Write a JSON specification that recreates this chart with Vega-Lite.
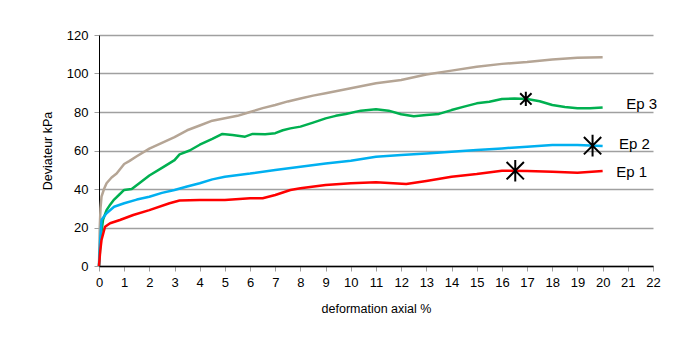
{
  "$schema": "https://vega.github.io/schema/vega-lite/v6.json",
  "width": 554,
  "height": 231,
  "autosize": {"type": "none"},
  "padding": {"left": 99, "top": 35, "right": 35, "bottom": 74},
  "background": "white",
  "config": {
    "view": {"stroke": null},
    "font": "Liberation Sans",
    "axis": {
      "labelFont": "Liberation Sans",
      "titleFont": "Liberation Sans",
      "labelColor": "#000000",
      "titleColor": "#000000",
      "titleFontWeight": "normal",
      "labelFontSize": 13,
      "titleFontSize": 12.5,
      "tickColor": "#a0a0a0",
      "tickSize": 5,
      "domainColor": "#000000",
      "labelOverlap": false
    }
  },
  "datasets": {
    "curves": [
      {"series": "gris", "strain": 0, "dev": 0},
      {"series": "gris", "strain": 0.03, "dev": 20},
      {"series": "gris", "strain": 0.06, "dev": 30},
      {"series": "gris", "strain": 0.1, "dev": 36},
      {"series": "gris", "strain": 0.2, "dev": 40},
      {"series": "gris", "strain": 0.3, "dev": 43},
      {"series": "gris", "strain": 0.5, "dev": 46},
      {"series": "gris", "strain": 0.7, "dev": 48},
      {"series": "gris", "strain": 1.0, "dev": 53},
      {"series": "gris", "strain": 1.2, "dev": 54.5},
      {"series": "gris", "strain": 1.5, "dev": 57},
      {"series": "gris", "strain": 2, "dev": 61},
      {"series": "gris", "strain": 2.5, "dev": 64},
      {"series": "gris", "strain": 3, "dev": 67},
      {"series": "gris", "strain": 3.5, "dev": 70.5},
      {"series": "gris", "strain": 4, "dev": 73},
      {"series": "gris", "strain": 4.5, "dev": 75.5},
      {"series": "gris", "strain": 5, "dev": 76.7},
      {"series": "gris", "strain": 5.5, "dev": 78},
      {"series": "gris", "strain": 6, "dev": 80},
      {"series": "gris", "strain": 6.5, "dev": 82},
      {"series": "gris", "strain": 7, "dev": 83.6},
      {"series": "gris", "strain": 7.5, "dev": 85.5},
      {"series": "gris", "strain": 8, "dev": 87},
      {"series": "gris", "strain": 8.5, "dev": 88.5},
      {"series": "gris", "strain": 9, "dev": 89.7},
      {"series": "gris", "strain": 9.5, "dev": 91},
      {"series": "gris", "strain": 10, "dev": 92.3},
      {"series": "gris", "strain": 11, "dev": 94.9},
      {"series": "gris", "strain": 12, "dev": 96.6},
      {"series": "gris", "strain": 13, "dev": 99.5},
      {"series": "gris", "strain": 14, "dev": 101.5},
      {"series": "gris", "strain": 15, "dev": 103.5},
      {"series": "gris", "strain": 16, "dev": 105},
      {"series": "gris", "strain": 17, "dev": 106},
      {"series": "gris", "strain": 18, "dev": 107.3},
      {"series": "gris", "strain": 19, "dev": 108.2},
      {"series": "gris", "strain": 20, "dev": 108.5},

      {"series": "Ep 3", "strain": 0, "dev": 0},
      {"series": "Ep 3", "strain": 0.05, "dev": 10},
      {"series": "Ep 3", "strain": 0.1, "dev": 18},
      {"series": "Ep 3", "strain": 0.16, "dev": 24},
      {"series": "Ep 3", "strain": 0.3, "dev": 29},
      {"series": "Ep 3", "strain": 0.45, "dev": 32},
      {"series": "Ep 3", "strain": 0.6, "dev": 34.5},
      {"series": "Ep 3", "strain": 0.8, "dev": 37},
      {"series": "Ep 3", "strain": 1.0, "dev": 39.5},
      {"series": "Ep 3", "strain": 1.3, "dev": 40},
      {"series": "Ep 3", "strain": 1.6, "dev": 43},
      {"series": "Ep 3", "strain": 2, "dev": 47},
      {"series": "Ep 3", "strain": 2.5, "dev": 51},
      {"series": "Ep 3", "strain": 3, "dev": 55},
      {"series": "Ep 3", "strain": 3.2, "dev": 58},
      {"series": "Ep 3", "strain": 3.6, "dev": 60},
      {"series": "Ep 3", "strain": 4, "dev": 63},
      {"series": "Ep 3", "strain": 4.5, "dev": 66},
      {"series": "Ep 3", "strain": 4.9, "dev": 68.6},
      {"series": "Ep 3", "strain": 5.3, "dev": 68},
      {"series": "Ep 3", "strain": 5.8, "dev": 67.2},
      {"series": "Ep 3", "strain": 6.1, "dev": 68.6},
      {"series": "Ep 3", "strain": 6.6, "dev": 68.5},
      {"series": "Ep 3", "strain": 7, "dev": 69},
      {"series": "Ep 3", "strain": 7.3, "dev": 70.5},
      {"series": "Ep 3", "strain": 7.6, "dev": 71.5},
      {"series": "Ep 3", "strain": 8, "dev": 72.4},
      {"series": "Ep 3", "strain": 8.5, "dev": 74.5},
      {"series": "Ep 3", "strain": 9, "dev": 76.7},
      {"series": "Ep 3", "strain": 9.4, "dev": 78},
      {"series": "Ep 3", "strain": 9.8, "dev": 79},
      {"series": "Ep 3", "strain": 10.4, "dev": 80.7},
      {"series": "Ep 3", "strain": 11, "dev": 81.4},
      {"series": "Ep 3", "strain": 11.5, "dev": 80.7},
      {"series": "Ep 3", "strain": 12, "dev": 78.8},
      {"series": "Ep 3", "strain": 12.5, "dev": 77.8},
      {"series": "Ep 3", "strain": 13, "dev": 78.4},
      {"series": "Ep 3", "strain": 13.5, "dev": 79},
      {"series": "Ep 3", "strain": 14, "dev": 81},
      {"series": "Ep 3", "strain": 14.5, "dev": 82.8},
      {"series": "Ep 3", "strain": 15, "dev": 84.5},
      {"series": "Ep 3", "strain": 15.5, "dev": 85.3},
      {"series": "Ep 3", "strain": 16, "dev": 86.8},
      {"series": "Ep 3", "strain": 16.5, "dev": 87},
      {"series": "Ep 3", "strain": 17, "dev": 86.8},
      {"series": "Ep 3", "strain": 17.5, "dev": 85.6},
      {"series": "Ep 3", "strain": 18, "dev": 83.6},
      {"series": "Ep 3", "strain": 18.5, "dev": 82.6},
      {"series": "Ep 3", "strain": 19, "dev": 81.9},
      {"series": "Ep 3", "strain": 19.5, "dev": 81.9},
      {"series": "Ep 3", "strain": 20, "dev": 82.4},

      {"series": "Ep 2", "strain": 0, "dev": 0},
      {"series": "Ep 2", "strain": 0.04, "dev": 12},
      {"series": "Ep 2", "strain": 0.1, "dev": 24},
      {"series": "Ep 2", "strain": 0.3, "dev": 27.4},
      {"series": "Ep 2", "strain": 0.6, "dev": 30.8},
      {"series": "Ep 2", "strain": 1.0, "dev": 32.6},
      {"series": "Ep 2", "strain": 1.5, "dev": 34.5},
      {"series": "Ep 2", "strain": 2, "dev": 36},
      {"series": "Ep 2", "strain": 2.5, "dev": 38},
      {"series": "Ep 2", "strain": 3, "dev": 39.5},
      {"series": "Ep 2", "strain": 3.5, "dev": 41.3},
      {"series": "Ep 2", "strain": 4, "dev": 43},
      {"series": "Ep 2", "strain": 4.5, "dev": 45},
      {"series": "Ep 2", "strain": 5, "dev": 46.4},
      {"series": "Ep 2", "strain": 6, "dev": 48},
      {"series": "Ep 2", "strain": 7, "dev": 49.9},
      {"series": "Ep 2", "strain": 8, "dev": 51.6},
      {"series": "Ep 2", "strain": 9, "dev": 53.3},
      {"series": "Ep 2", "strain": 10, "dev": 54.7},
      {"series": "Ep 2", "strain": 11, "dev": 56.8},
      {"series": "Ep 2", "strain": 12, "dev": 57.7},
      {"series": "Ep 2", "strain": 13, "dev": 58.5},
      {"series": "Ep 2", "strain": 14, "dev": 59.4},
      {"series": "Ep 2", "strain": 15, "dev": 60.3},
      {"series": "Ep 2", "strain": 16, "dev": 61.1},
      {"series": "Ep 2", "strain": 17, "dev": 62},
      {"series": "Ep 2", "strain": 18, "dev": 62.9},
      {"series": "Ep 2", "strain": 19, "dev": 62.9},
      {"series": "Ep 2", "strain": 20, "dev": 62.3},

      {"series": "Ep 1", "strain": 0, "dev": 0},
      {"series": "Ep 1", "strain": 0.05, "dev": 8},
      {"series": "Ep 1", "strain": 0.1, "dev": 13.5},
      {"series": "Ep 1", "strain": 0.24, "dev": 20.4},
      {"series": "Ep 1", "strain": 0.44, "dev": 22.2},
      {"series": "Ep 1", "strain": 0.83, "dev": 23.9},
      {"series": "Ep 1", "strain": 1.36, "dev": 26.5},
      {"series": "Ep 1", "strain": 2, "dev": 29},
      {"series": "Ep 1", "strain": 2.8, "dev": 32.6},
      {"series": "Ep 1", "strain": 3.2, "dev": 34},
      {"series": "Ep 1", "strain": 4, "dev": 34.3},
      {"series": "Ep 1", "strain": 5, "dev": 34.3},
      {"series": "Ep 1", "strain": 6, "dev": 35.2},
      {"series": "Ep 1", "strain": 6.5, "dev": 35.2},
      {"series": "Ep 1", "strain": 7, "dev": 36.9},
      {"series": "Ep 1", "strain": 7.6, "dev": 39.5},
      {"series": "Ep 1", "strain": 8, "dev": 40.4},
      {"series": "Ep 1", "strain": 9, "dev": 42.1},
      {"series": "Ep 1", "strain": 10, "dev": 43},
      {"series": "Ep 1", "strain": 11, "dev": 43.5},
      {"series": "Ep 1", "strain": 12.2, "dev": 42.6},
      {"series": "Ep 1", "strain": 13, "dev": 44.2},
      {"series": "Ep 1", "strain": 14, "dev": 46.4},
      {"series": "Ep 1", "strain": 15, "dev": 47.8},
      {"series": "Ep 1", "strain": 16, "dev": 49.5},
      {"series": "Ep 1", "strain": 17, "dev": 49.4},
      {"series": "Ep 1", "strain": 18, "dev": 49},
      {"series": "Ep 1", "strain": 19, "dev": 48.5},
      {"series": "Ep 1", "strain": 20, "dev": 49.4}
    ],
    "peaks": [
      {"series": "Ep 1", "strain": 16.53, "dev": 49.5, "big": "grand"},
      {"series": "Ep 2", "strain": 19.6, "dev": 62.5, "big": "grand"},
      {"series": "Ep 3", "strain": 16.95, "dev": 86.8, "big": "petit"}
    ],
    "labels": [
      {"label": "Ep 3", "strain": 20.94, "dev": 84},
      {"label": "Ep 2", "strain": 20.65, "dev": 63.2},
      {"label": "Ep 1", "strain": 20.54, "dev": 49}
    ]
  },
  "encoding": {
    "x": {
      "field": "strain", "type": "quantitative",
      "scale": {"domain": [0, 22], "nice": false, "zero": false},
      "axis": {
        "title": "deformation axial %",
        "values": [0,1,2,3,4,5,6,7,8,9,10,11,12,13,14,15,16,17,18,19,20,21,22],
        "grid": false,
        "domainWidth": 1.5,
        "labelPadding": 5,
        "titlePadding": 13,
        "labelFlush": false,
        "zindex": 1
      }
    },
    "y": {
      "field": "dev", "type": "quantitative",
      "scale": {"domain": [0, 120], "nice": false},
      "axis": {
        "title": "Deviateur kPa",
        "values": [0, 20, 40, 60, 80, 100, 120],
        "grid": true,
        "gridColor": "#a0a0a0",
        "gridWidth": 1.5,
        "domainWidth": 1,
        "labelPadding": 6,
        "titlePadding": 12,
        "labelFlush": false
      }
    }
  },
  "layer": [
    {
      "data": {"name": "curves"},
      "mark": {"type": "line", "strokeWidth": 2.5, "strokeJoin": "round"},
      "encoding": {
        "color": {
          "field": "series", "type": "nominal",
          "scale": {"domain": ["gris", "Ep 3", "Ep 2", "Ep 1"], "range": ["#b5a595", "#00b050", "#00b0f0", "#ff0000"]},
          "legend": null
        },
        "order": {"field": "strain", "type": "quantitative"}
      }
    },
    {
      "data": {"name": "peaks"},
      "mark": {
        "type": "point",
        "shape": "M-1,-1L1,1M-1,1L1,-1M0,-1.25L0,1.25",
        "filled": false,
        "stroke": "#000000",
        "strokeWidth": 2,
        "opacity": 1
      },
      "encoding": {
        "size": {
          "field": "big", "type": "nominal",
          "scale": {"domain": ["grand", "petit"], "range": [300, 130]},
          "legend": null
        }
      }
    },
    {
      "data": {"name": "labels"},
      "mark": {"type": "text", "align": "left", "baseline": "middle", "fontSize": 15, "font": "Liberation Sans", "color": "#000000"},
      "encoding": {
        "text": {"field": "label"}
      }
    }
  ]
}
